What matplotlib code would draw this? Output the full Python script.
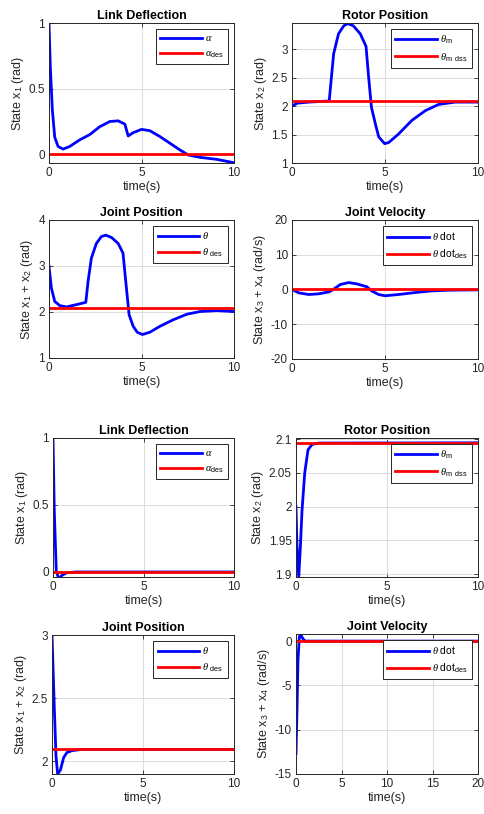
import numpy as np
import matplotlib
matplotlib.use("Agg")
from matplotlib import pyplot as plt
from matplotlib.ticker import FuncFormatter

plt.rcParams['font.family'] = ['Liberation Sans', 'DejaVu Sans']
plt.rcParams['mathtext.fontset'] = 'custom'
plt.rcParams['mathtext.rm'] = 'Liberation Sans'
plt.rcParams['mathtext.it'] = 'Liberation Serif:italic'
plt.rcParams['mathtext.bf'] = 'Liberation Sans:bold'

# ---- upper figure (t = 0..10) ----
t_alpha1 = [0, 0.07, 0.18, 0.31, 0.49, 0.76, 1.12, 1.66, 2.2, 2.74, 3.29, 3.74, 4.1,
            4.28, 4.55, 5.0, 5.45, 6.0, 6.53, 7.08, 7.53, 8.16, 9.06, 10]
alpha1 = [1.0, 0.67, 0.34, 0.13, 0.06, 0.04, 0.06, 0.11, 0.15, 0.21, 0.25, 0.255, 0.23,
          0.14, 0.165, 0.19, 0.18, 0.135, 0.085, 0.033, -0.005, -0.023, -0.038, -0.064]

t_thm1 = [0, 0.27, 0.9, 2.0, 2.1, 2.24, 2.5, 2.78, 3.0, 3.3, 3.67, 3.98, 4.12, 4.27,
          4.48, 4.66, 4.98, 5.2, 5.73, 6.45, 7.17, 7.89, 8.78, 10]
thm1 = [2.0, 2.05, 2.07, 2.09, 2.44, 2.92, 3.27, 3.41, 3.45, 3.41, 3.27, 3.05, 2.51, 1.98,
        1.69, 1.46, 1.34, 1.36, 1.51, 1.75, 1.92, 2.03, 2.07, 2.07]

t_th1 = [0, 0.13, 0.31, 0.58, 0.94, 1.48, 1.99, 2.11, 2.29, 2.56, 2.83, 3.07, 3.38, 3.74,
         4.0, 4.15, 4.33, 4.55, 4.77, 5.05, 5.45, 6.0, 6.71, 7.44, 8.16, 9.06, 10]
th1 = [2.99, 2.52, 2.23, 2.14, 2.11, 2.16, 2.21, 2.66, 3.17, 3.49, 3.64, 3.67, 3.62, 3.49,
       3.28, 2.66, 1.94, 1.69, 1.56, 1.51, 1.56, 1.69, 1.83, 1.95, 2.01, 2.03, 2.01]

t_thd1 = [0, 0.36, 0.9, 1.43, 2.0, 2.24, 2.6, 3.05, 3.5, 4.03, 4.3, 4.66, 5.0, 5.73,
          6.63, 7.5, 8.4, 10]
thd1 = [0, -0.96, -1.44, -1.25, -0.67, 0.1, 1.44, 2.0, 1.6, 0.77, -0.48, -1.44, -1.8,
        -1.44, -0.87, -0.4, -0.2, -0.1]

# ---- lower figure ----
t_alpha2 = [0, 0.07, 0.18, 0.31, 0.5, 0.77, 1.3, 10]
alpha2 = [1.0, 0.46, 0.01, -0.05, -0.025, -0.005, 0.0, 0.0]

t_thm2 = [0, 0.05, 0.15, 0.24, 0.33, 0.48, 0.66, 0.88, 1.25, 10]
thm2 = [2.0, 1.945, 1.896, 1.94, 1.994, 2.05, 2.084, 2.092, 2.094, 2.0944]

t_th2 = [0, 0.13, 0.22, 0.31, 0.46, 0.64, 0.82, 1.1, 1.6, 10]
th2 = [3.0, 2.41, 2.04, 1.90, 1.93, 2.03, 2.07, 2.085, 2.094, 2.0944]

t_thd2 = [0, 0.11, 0.22, 0.37, 0.51, 0.73, 1.0, 20]
thd2 = [-12.7, -7.8, -2.1, 0.5, 0.8, 0.3, 0.0, 0.0]

theta_des = 2.0944   # 2*pi/3
alpha_des = 0.0
thdot_des = 0.0

W, H = 484, 814
fig = plt.figure(figsize=(W / 100, H / 100), dpi=100)


def make_axes(left, top, right, bottom):
    return fig.add_axes([left / W, 1 - bottom / H, (right - left) / W, (bottom - top) / H])


def style(ax, title, ylabel, xlim, ylim, yticks, xticks):
    ax.set_xlim(*xlim)
    ax.set_ylim(*ylim)
    ax.set_xticks(xticks)
    ax.set_yticks(yticks)
    ax.yaxis.set_major_formatter(FuncFormatter(lambda v, p: '%g' % round(v, 4)))
    ax.xaxis.set_major_formatter(FuncFormatter(lambda v, p: '%g' % v))
    ax.grid(True, color='#dcdcdc', linewidth=0.7)
    ax.set_axisbelow(True)
    ax.tick_params(direction='in', top=True, right=True, length=3, width=0.6,
                   labelsize=8.5, colors='#262626', pad=3)
    for s in ax.spines.values():
        s.set_color('#262626')
        s.set_linewidth(0.7)
    ax.set_title(title, fontsize=9, fontweight='bold', pad=3)
    ax.set_ylabel(ylabel, fontsize=9, color='#262626', labelpad=2)
    ax.set_xlabel('time(s)', fontsize=9, color='#262626', labelpad=1)


def draw(ax, t, y, des, xmax, lab1, lab2):
    ax.plot(t, y, color='#0000ff', lw=2.0, label=lab1)
    ax.plot([0, xmax], [des, des], color='#ff0000', lw=2.0, label=lab2)
    leg = ax.legend(loc='upper right', fontsize=7.5, handlelength=4.0, fancybox=False,
                    framealpha=1, edgecolor='#262626', borderaxespad=0.6,
                    labelspacing=0.5, handletextpad=0.3, borderpad=0.4)
    leg.get_frame().set_linewidth(0.7)


lab_thm = r'$\theta_{\mathrm{m}\ \ \mathrm{dss}}$'

# panel 1
ax = make_axes(49, 23, 234, 163)
draw(ax, t_alpha1, alpha1, alpha_des, 10, r'$\alpha$', r'$\alpha_{\mathrm{des}}$')
style(ax, 'Link Deflection', 'State x$_1$ (rad)', (0, 10), (-0.066, 1), [0, 0.5, 1], [0, 5, 10])

# panel 2
ax = make_axes(292, 23, 478, 163)
draw(ax, t_thm1, thm1, theta_des, 10, r'$\theta_{\mathrm{m}}$', lab_thm)
style(ax, 'Rotor Position', 'State x$_2$ (rad)', (0, 10), (1, 3.46),
      [1, 1.5, 2, 2.5, 3], [0, 5, 10])

# panel 3
ax = make_axes(49, 220, 234, 358)
draw(ax, t_th1, th1, theta_des, 10, r'$\theta$', r'$\theta\ _{\mathrm{des}}$')
style(ax, 'Joint Position', 'State x$_1$ + x$_2$ (rad)', (0, 10), (1, 4), [1, 2, 3, 4], [0, 5, 10])

# panel 4
ax = make_axes(292, 220, 478, 359)
draw(ax, t_thd1, thd1, thdot_des, 10, r'$\theta$ dot', r'$\theta$ dot$_{\mathrm{des}}$')
style(ax, 'Joint Velocity', 'State x$_3$ + x$_4$ (rad/s)', (0, 10), (-20, 20),
      [-20, -10, 0, 10, 20], [0, 5, 10])

# panel 5
ax = make_axes(53, 438, 234, 577)
draw(ax, t_alpha2, alpha2, alpha_des, 10, r'$\alpha$', r'$\alpha_{\mathrm{des}}$')
style(ax, 'Link Deflection', 'State x$_1$ (rad)', (0, 10), (-0.0375, 1), [0, 0.5, 1], [0, 5, 10])

# panel 6
ax = make_axes(296, 438, 478, 577)
draw(ax, t_thm2, thm2, theta_des, 10, r'$\theta_{\mathrm{m}}$', lab_thm)
style(ax, 'Rotor Position', 'State x$_2$ (rad)', (0, 10), (1.896, 2.1015),
      [1.9, 1.95, 2, 2.05, 2.1], [0, 5, 10])

# panel 7
ax = make_axes(52, 635, 234, 774)
draw(ax, t_th2, th2, theta_des, 10, r'$\theta$', r'$\theta\ _{\mathrm{des}}$')
style(ax, 'Joint Position', 'State x$_1$ + x$_2$ (rad)', (0, 10), (1.9, 3), [2, 2.5, 3], [0, 5, 10])

# panel 8
ax = make_axes(296, 634, 478, 774)
draw(ax, t_thd2, thd2, thdot_des, 20, r'$\theta$ dot', r'$\theta$ dot$_{\mathrm{des}}$')
style(ax, 'Joint Velocity', 'State x$_3$ + x$_4$ (rad/s)', (0, 20), (-15, 0.8),
      [-15, -10, -5, 0], [0, 5, 10, 15, 20])

fig.savefig('out.png', dpi=100)
